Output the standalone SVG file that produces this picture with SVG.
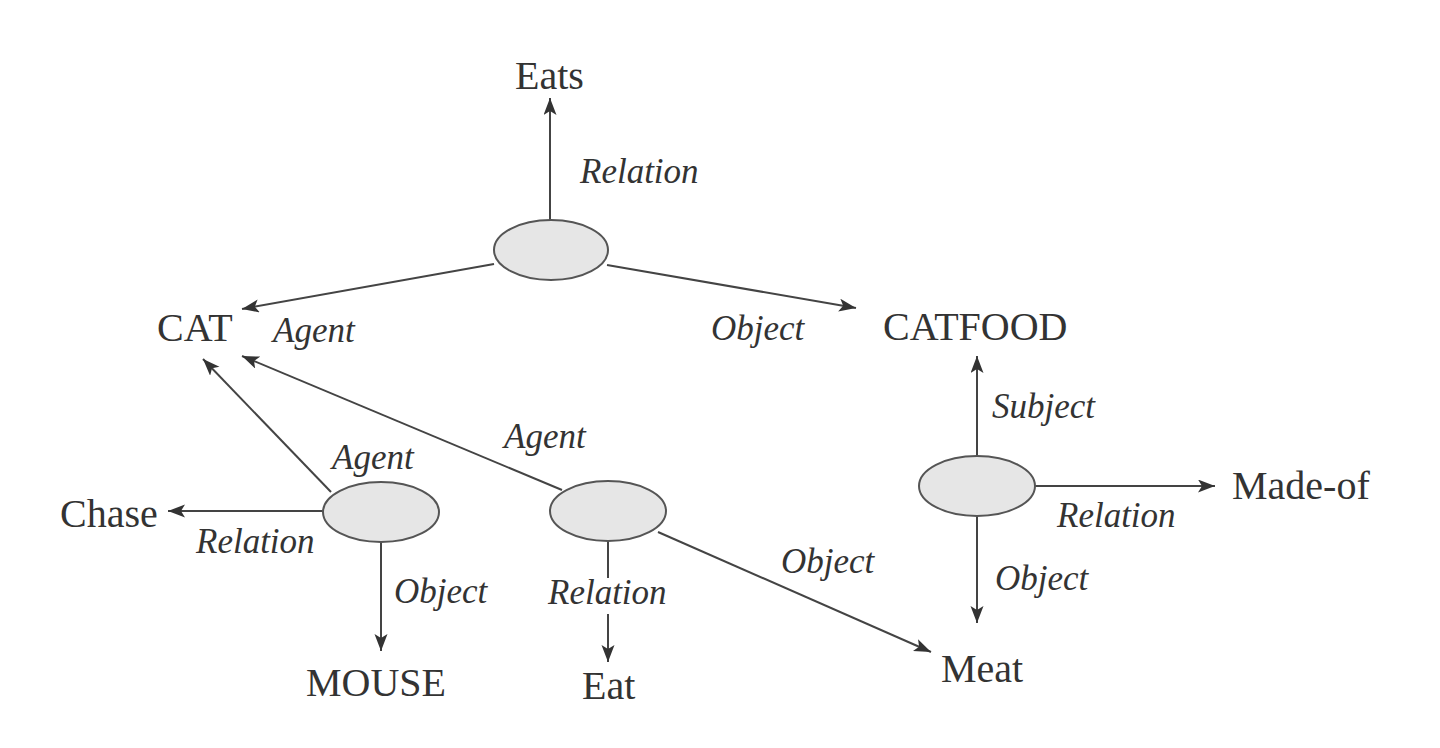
<svg xmlns="http://www.w3.org/2000/svg" width="1440" height="748" viewBox="0 0 1440 748">
<style>
.bg{fill:#ffffff}
.node{fill:#e6e6e6;stroke:#555;stroke-width:2}
.term{font-family:"Liberation Serif",serif;font-size:40px;fill:#333}
.lbl{font-family:"Liberation Serif",serif;font-style:italic;font-size:35px;fill:#333}
.edge{stroke:#444;stroke-width:2;fill:none}
.arr{stroke:#444;stroke-width:2;fill:none;marker-end:url(#ah)}
</style>
<defs>
<marker id="ah" markerUnits="userSpaceOnUse" markerWidth="20" markerHeight="14" refX="17" refY="6.5" orient="auto">
<path d="M0,0 L17,6.5 L0,13 L4,6.5 Z" fill="#333"/>
</marker>
</defs>
<rect class="bg" x="0" y="0" width="1440" height="748"/>
<g id="connectors">
<line class="arr" x1="550" y1="220" x2="550" y2="98"/>
<line class="arr" x1="494" y1="264" x2="242" y2="309"/>
<line class="arr" x1="607" y1="265" x2="856" y2="308"/>
<line class="arr" x1="331" y1="492" x2="203" y2="359"/>
<line class="arr" x1="323" y1="511" x2="168" y2="511"/>
<line class="arr" x1="381" y1="542" x2="381" y2="651"/>
<line class="arr" x1="562" y1="490" x2="242" y2="356"/>
<line class="edge" x1="608" y1="541" x2="608" y2="578"/>
<line class="arr" x1="608" y1="614" x2="608" y2="662"/>
<line class="arr" x1="658" y1="532" x2="931" y2="652"/>
<line class="arr" x1="977" y1="456" x2="977" y2="356"/>
<line class="arr" x1="1035" y1="486" x2="1215" y2="486"/>
<line class="arr" x1="977" y1="516" x2="977" y2="623"/>
</g>
<g id="rel-eats">
<ellipse class="node" cx="551" cy="250" rx="57" ry="30"/>
</g>
<g id="rel-chase">
<ellipse class="node" cx="381" cy="512" rx="58" ry="30"/>
</g>
<g id="rel-eat">
<ellipse class="node" cx="608" cy="511" rx="58" ry="30"/>
</g>
<g id="rel-madeof">
<ellipse class="node" cx="977" cy="486" rx="58" ry="30"/>
</g>
<g id="n-eats"><text class="term" x="515" y="89">Eats</text></g>
<g id="n-cat"><text class="term" x="157" y="341">CAT</text></g>
<g id="n-catfood"><text class="term" x="883" y="340">CATFOOD</text></g>
<g id="n-chase"><text class="term" x="60" y="527">Chase</text></g>
<g id="n-mouse"><text class="term" x="306" y="696">MOUSE</text></g>
<g id="n-eat"><text class="term" x="582" y="699">Eat</text></g>
<g id="n-meat"><text class="term" x="941" y="682">Meat</text></g>
<g id="n-madeof"><text class="term" x="1232" y="499">Made-of</text></g>
<g id="labels">
<text class="lbl" x="580" y="183">Relation</text>
<text class="lbl" x="273" y="342">Agent</text>
<text class="lbl" x="711" y="340">Object</text>
<text class="lbl" x="332" y="469">Agent</text>
<text class="lbl" x="196" y="553">Relation</text>
<text class="lbl" x="394" y="603">Object</text>
<text class="lbl" x="504" y="448">Agent</text>
<text class="lbl" x="548" y="604">Relation</text>
<text class="lbl" x="781" y="573">Object</text>
<text class="lbl" x="992" y="418">Subject</text>
<text class="lbl" x="1057" y="527">Relation</text>
<text class="lbl" x="995" y="590">Object</text>
</g>
</svg>
